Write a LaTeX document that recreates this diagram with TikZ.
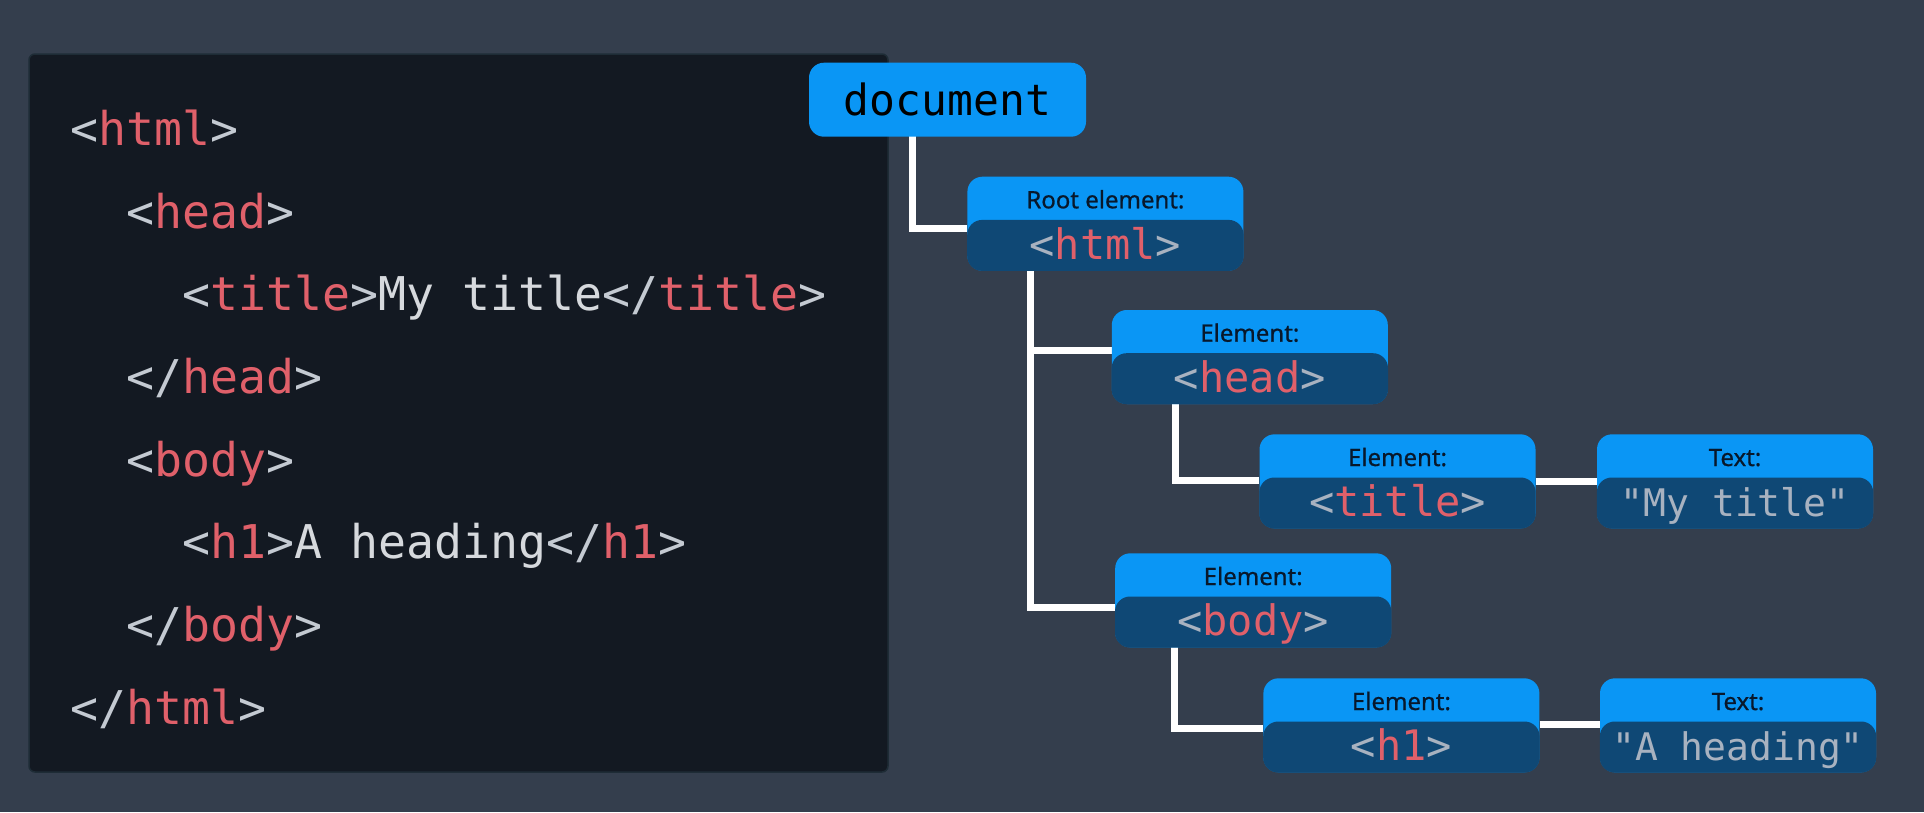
\documentclass[tikz,border=0pt]{standalone}
\usepackage{fontspec}
\setmainfont{Noto Sans}
\newfontfamily\lblf[FakeBold=0.7]{Noto Sans}
\newfontfamily\monof{DejaVu Sans Mono}
\usetikzlibrary{calc}
\definecolor{bgc}{RGB}{52,62,77}
\definecolor{panel}{RGB}{19,25,34}
\definecolor{panelborder}{RGB}{30,44,54}
\definecolor{tagred}{RGB}{224,96,106}
\definecolor{brk}{RGB}{196,202,210}
\definecolor{plain}{RGB}{214,217,221}
\definecolor{boxblue}{RGB}{10,150,245}
\definecolor{boxdark}{RGB}{15,72,117}
\definecolor{lblc}{RGB}{8,24,43}
\definecolor{boxgrey}{RGB}{168,178,192}
\newcommand\tg[1]{\textcolor{tagred}{#1}}
\newcommand\pl[1]{\textcolor{plain}{#1}}
\pgfdeclarelayer{back}
\pgfdeclarelayer{bg}
\pgfsetlayers{back,bg,main}
\tikzset{
  codeline/.style={anchor=base west, inner sep=0pt, font=\monof\fontsize{46.5}{50}\selectfont, text=brk},
  tree/.style={rectangle, rounded corners=15pt, fill=boxblue, minimum width=276pt, minimum height=94pt, inner sep=0pt},
  darkpart/.style={fill=boxdark, rounded corners=15pt},
  lbl/.style={anchor=base, inner sep=0pt, text=lblc, font=\lblf\fontsize{24}{26}\selectfont},
  val/.style={anchor=base, inner sep=0pt, text=boxgrey, font=\monof\fontsize{42}{46}\selectfont},
  conn/.style={draw=white, line width=7pt, line join=miter},
}
\begin{document}
\begin{tikzpicture}[x=1pt,y=-1pt]
\begin{pgfonlayer}{back}
\fill[bgc] (0,0) rectangle (1924,812);
\end{pgfonlayer}
\useasboundingbox (0,0) rectangle (1924,812);

% code panel
\draw[fill=panel, draw=panelborder, line width=1.5pt, rounded corners=6pt] (29,54) rectangle (888,772);
\node[codeline] (c1) at (70,145.5) {<\tg{html}>};
\node[codeline] (c2) at (126,228.2) {<\tg{head}>};
\node[codeline] (c3) at (182,310.8) {<\tg{title}>\pl{My title}</\tg{title}>};
\node[codeline] (c4) at (126,393.5) {</\tg{head}>};
\node[codeline] (c5) at (126,476.1) {<\tg{body}>};
\node[codeline] (c6) at (182,558.8) {<\tg{h1}>\pl{A heading}</\tg{h1}>};
\node[codeline] (c7) at (126,641.4) {</\tg{body}>};
\node[codeline] (c8) at (70,724) {</\tg{html}>};

% document node
\node[rectangle, rounded corners=15pt, fill=boxblue, minimum width=277pt, minimum height=74pt, inner sep=0pt,
      font=\monof\fontsize{43}{46}\selectfont, text=black] (doc) at (947.5,99.7) {document};

% tree boxes
\node[tree] (html)  at (1105.4,223.7) {};
\node[tree] (head)  at (1249.8,357.0) {};
\node[tree] (title) at (1397.5,481.3) {};
\node[tree] (txt1)  at (1735.0,481.3) {};
\node[tree] (body)  at (1253.2,600.3) {};
\node[tree] (h1)    at (1401.4,725.3) {};
\node[tree] (txt2)  at (1738.0,725.3) {};

\foreach \n in {html,head,title,txt1,body,h1,txt2}{
  \fill[darkpart] (\n.south west) rectangle ([yshift=51pt]\n.south east);
}

\node[lbl] (html-l)  at ([yshift=15.4pt]html.center) {Root element:};
\node[lbl] (head-l)  at ([yshift=15.3pt]head.center) {Element:};
\node[lbl] (title-l) at ([yshift=15.3pt]title.center) {Element:};
\node[lbl] (txt1-l)  at ([yshift=15.3pt]txt1.center) {Text:};
\node[lbl] (body-l)  at ([yshift=15.3pt]body.center) {Element:};
\node[lbl] (h1-l)    at ([yshift=15.3pt]h1.center) {Element:};
\node[lbl] (txt2-l)  at ([yshift=15.3pt]txt2.center) {Text:};

\node[val] (html-v)  at ([yshift=-35.8pt]html.center) {<\tg{html}>};
\node[val] (head-v)  at ([yshift=-35.5pt]head.center) {<\tg{head}>};
\node[val] (title-v) at ([yshift=-35.5pt]title.center) {<\tg{title}>};
\node[val, font=\monof\fontsize{38}{42}\selectfont] (txt1-v) at ([yshift=-35.5pt]txt1.center) {"My title"};
\node[val] (body-v)  at ([yshift=-35.5pt]body.center) {<\tg{body}>};
\node[val] (h1-v)    at ([yshift=-35.5pt]h1.center) {<\tg{h1}>};
\node[val, font=\monof\fontsize{38}{42}\selectfont] (txt2-v) at ([yshift=-35.5pt]txt2.center) {"A heading"};

% connectors
\begin{pgfonlayer}{bg}
\coordinate (dx) at ([xshift=104pt,yshift=5pt]doc.south west);
\draw[conn] (dx) |- ([yshift=-5.1pt]html.west);
\coordinate (hx) at ([xshift=63.3pt,yshift=5pt]html.south west);
\coordinate (headin) at ([yshift=6.3pt]head.west);
\draw[conn] (hx) |- ([yshift=-6.7pt]body.west);
\draw[conn] (hx |- headin) -- (headin);
\coordinate (tx) at ([xshift=63.4pt,yshift=5pt]head.south west);
\draw[conn] (tx) |- ([yshift=1pt]title.west);
\draw[conn] ([yshift=0.3pt]title.east) -- ([yshift=0.3pt]txt1.west);
\coordinate (bx) at ([xshift=59.2pt,yshift=5pt]body.south west);
\draw[conn] (bx) |- ([yshift=-2.7pt]h1.west);
\draw[conn] ([yshift=1pt]h1.east) -- ([yshift=1pt]txt2.west);
\end{pgfonlayer}
\end{tikzpicture}
\end{document}
